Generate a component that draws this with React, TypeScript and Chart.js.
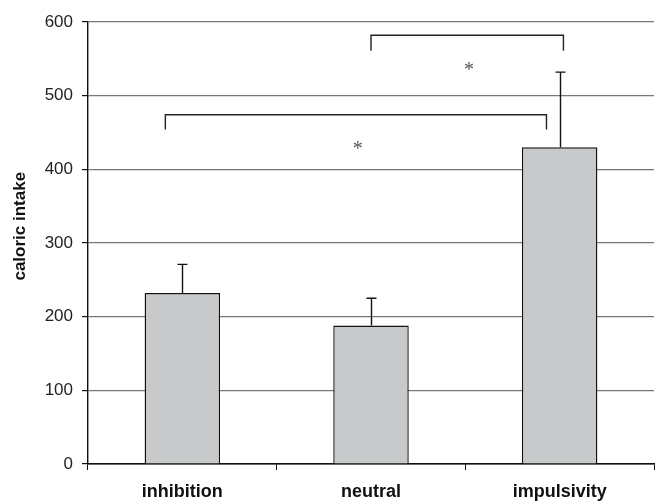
import React, { useEffect, useRef } from "react";
import { Chart, registerables } from "chart.js";

Chart.register(...registerables);

const categories = ["inhibition", "neutral", "impulsivity"];
const means = [232, 188, 430];
const errors = [39, 37, 102];
const yTicks = [0, 100, 200, 300, 400, 500, 600];
const yTitle = "caloric intake";
// significance brackets: [x start (category index), x end, top value, leg bottom value]
const brackets = [
  { x0: 1.0, x1: 2.02, top: 582, bottom: 561, starX: 1.52, starY: 539 },
  { x0: -0.09, x1: 1.93, top: 474, bottom: 454, starX: 0.93, starY: 432 },
];

const overlayPlugin = {
  id: "overlay",
  afterDatasetsDraw(chart: any) {
    const ctx = chart.ctx;
    const xs = chart.scales.x;
    const ys = chart.scales.y;
    const meta = chart.getDatasetMeta(0);
    ctx.save();
    // error bars
    ctx.strokeStyle = "#111";
    ctx.lineWidth = 1.4;
    meta.data.forEach((bar: any, i: number) => {
      const x = Math.round(bar.x) + 0.5;
      const yTop = ys.getPixelForValue(means[i]);
      const yErr = ys.getPixelForValue(means[i] + errors[i]);
      ctx.beginPath();
      ctx.moveTo(x, yTop);
      ctx.lineTo(x, yErr);
      ctx.moveTo(x - 5, yErr);
      ctx.lineTo(x + 5, yErr);
      ctx.stroke();
    });
    // brackets
    ctx.strokeStyle = "#222";
    ctx.lineWidth = 1.4;
    ctx.fillStyle = "#555";
    ctx.font = "20px 'Liberation Serif', serif";
    ctx.textAlign = "center";
    ctx.textBaseline = "middle";
    brackets.forEach((b) => {
      const x0 = xs.getPixelForValue(b.x0);
      const x1 = xs.getPixelForValue(b.x1);
      const yt = ys.getPixelForValue(b.top);
      const yb = ys.getPixelForValue(b.bottom);
      ctx.beginPath();
      ctx.moveTo(x0, yb);
      ctx.lineTo(x0, yt);
      ctx.lineTo(x1, yt);
      ctx.lineTo(x1, yb);
      ctx.stroke();
      ctx.fillText("*", xs.getPixelForValue(b.starX), ys.getPixelForValue(b.starY) + 4);
    });
    // y-axis title
    const ca = chart.chartArea;
    ctx.translate(20, ca.top + ca.height * 0.462);
    ctx.rotate(-Math.PI / 2);
    ctx.fillStyle = "#111";
    ctx.font = "bold 17px 'Liberation Sans', Arial, sans-serif";
    ctx.fillText(yTitle, 0, 0);
    ctx.restore();
  },
};

export default function App() {
  const ref = useRef<HTMLCanvasElement>(null);
  useEffect(() => {
    if (!ref.current) return;
    const chart = new Chart(ref.current, {
      type: "bar",
      data: {
        labels: categories,
        datasets: [
          {
            data: means,
            backgroundColor: "#c8c9cb",
            borderColor: "#111",
            borderWidth: 1.4,
            barPercentage: 0.4,
            categoryPercentage: 1,
          },
        ],
      },
      options: {
        animation: false,
        responsive: true,
        maintainAspectRatio: false,
        layout: { padding: { top: 22, right: 3, left: 0, bottom: 0 } },
        plugins: { legend: { display: false }, tooltip: { enabled: false } },
        scales: {
          x: {
            afterFit: (s: any) => {
              s.height = 38;
            },
            grid: {
              offset: true,
              drawOnChartArea: false,
              color: "#111",
              tickLength: 6,
            },
            border: { color: "#111", width: 1.4 },
            ticks: {
              color: "#111",
              font: { family: "'Liberation Sans', Arial, sans-serif", size: 18, weight: "bold" },
              padding: 11,
            },
          },
          y: {
            min: 0,
            max: 600,
            afterBuildTicks: (s: any) => {
              s.ticks = yTicks.map((v) => ({ value: v }));
            },
            afterFit: (s: any) => {
              s.width = 88;
            },
            grid: {
              color: (c: any) => (c.tick && c.tick.value === 0 ? "#111" : "#777"),
              lineWidth: 1.2,
              tickLength: 6,
              tickColor: "#111",
            },
            border: { color: "#111", width: 1.4 },
            ticks: {
              color: "#222",
              font: { family: "'Liberation Sans', Arial, sans-serif", size: 17 },
              padding: 9,
            },
          },
        },
      },
      plugins: [overlayPlugin],
    } as any);
    return () => chart.destroy();
  }, []);
  return (
    <div style={{ position: "fixed", left: 0, top: 0, width: 657, height: 502 }}>
      <canvas ref={ref} />
    </div>
  );
}
